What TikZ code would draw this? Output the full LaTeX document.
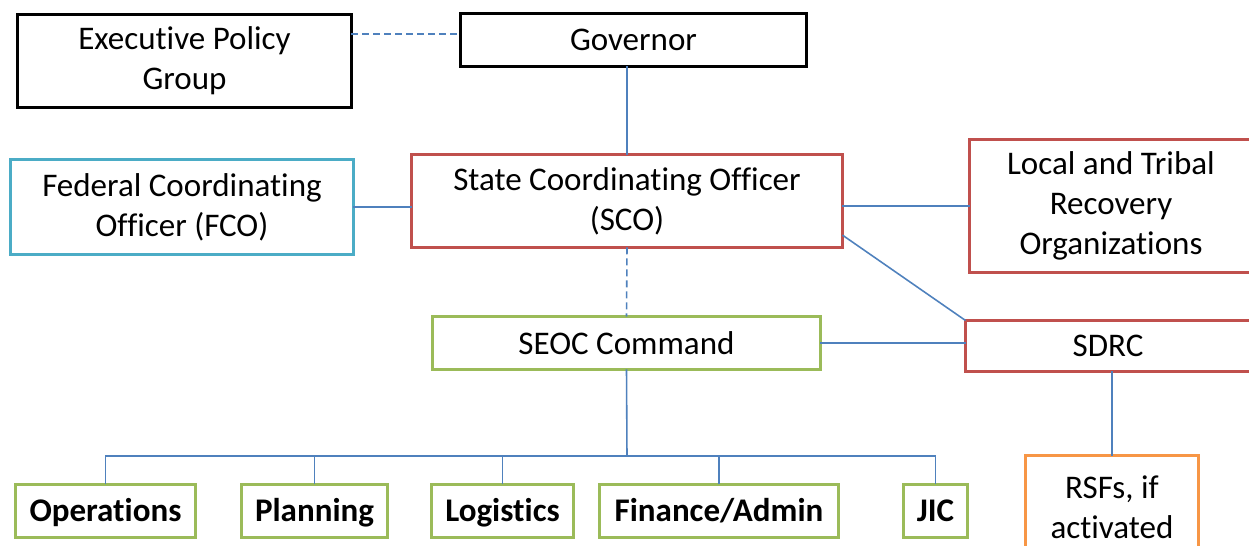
\documentclass[tikz,border=0pt]{standalone}
\usepackage{fontspec}
\setmainfont{Carlito}[RawFeature=-liga, RawFeature=-clig, RawFeature=-calt, RawFeature=-dlig]
\usetikzlibrary{positioning}
\definecolor{linkblue}{HTML}{4F81BD}
\definecolor{boxred}{HTML}{C0504D}
\definecolor{boxteal}{HTML}{4BACC6}
\definecolor{boxgreen}{HTML}{9BBB59}
\definecolor{boxorange}{HTML}{F79646}
\tikzset{box/.style={
    draw=#1, line width=1.7pt, fill=white,
    inner sep=0pt, outer sep=0pt, align=center,
    font=\fontsize{18.8}{22.8}\selectfont
  },
  box/.default={black},
  unit/.style={box=boxgreen, minimum height=1.06cm, text height=17pt, text depth=4.5pt,
    font=\fontsize{18.8}{22.8}\selectfont\bfseries},
  link/.style={draw=linkblue, line width=0.9pt},
  dashlink/.style={link, dash pattern=on 0.14cm off 0.08cm}
}

\begin{document}
\begin{tikzpicture}[x=0.02cm,y=-0.02cm]
    \useasboundingbox (0,0) rectangle (1249,546);
    \clip (0,0) rectangle (1249,546);
    \node[box, minimum width=6.68cm, minimum height=1.86cm] (exec) at (184.5,61) {Executive Policy\\Group};
    \node[box, minimum width=6.92cm, minimum height=1.06cm] (gov) at (633.5,40) {Governor};
    \node[box=boxteal, minimum width=6.86cm, minimum height=1.90cm] (fco) at (182,207) {Federal Coordinating\\Officer (FCO)};
    \node[box=boxred, minimum width=8.62cm, minimum height=1.86cm] (sco) at (627,201) {State Coordinating Officer\\(SCO)};
    \node[box=boxred, minimum width=5.66cm, minimum height=2.66cm] (local) at (1111,206) {Local and Tribal\\Recovery\\Organizations};
    \node[box=boxgreen, minimum width=7.76cm, minimum height=1.06cm] (seoc) at (626.5,343) {SEOC Command};
    \node[box=boxred, minimum width=5.70cm, minimum height=1.02cm] (sdrc) at (1108,346) {SDRC};
    \node[box=boxorange, minimum width=3.46cm, minimum height=2.06cm] (rsf) at (1112,507) {RSFs, if\\activated};
    \node[unit, minimum width=3.60cm] (ops) at (105.5,511) {Operations};
    \node[unit, minimum width=2.92cm] (plan) at (314.5,511) {Planning};
    \node[unit, minimum width=2.84cm] (logi) at (502.5,511) {Logistics};
    \node[unit, minimum width=4.78cm] (fin) at (719,511) {Finance/Admin};
    \node[unit, minimum width=1.28cm] (jic) at (935.5,511) {JIC};
    \coordinate (bus) at (627,456);
    \draw[dashlink] ([yshift=0.12cm]exec.east |- gov.west) -- ([yshift=0.12cm]gov.west);
    \draw[link] (sco.north |- gov.south) -- (sco.north);
    \draw[link] (fco.east) -- (fco.east -| sco.west);
    \draw[link] (local.west -| sco.east) -- (local.west);
    \draw[link] (sco.-9) -- (sdrc.north west);
    \draw[dashlink] (sco.south) -- (seoc.north);
    \draw[link] (seoc.east) -- (seoc.east -| sdrc.west);
    \draw[link] (sdrc.south -| rsf.north) -- (rsf.north);
    \draw[link] (seoc.south) -- (bus);
    \draw[link] (ops.north) |- (bus) -| (jic.north);
    \foreach \u in {plan,logi,fin}
      \draw[link] (\u.north) -- (\u.north |- bus);
  \end{tikzpicture}
\end{document}
